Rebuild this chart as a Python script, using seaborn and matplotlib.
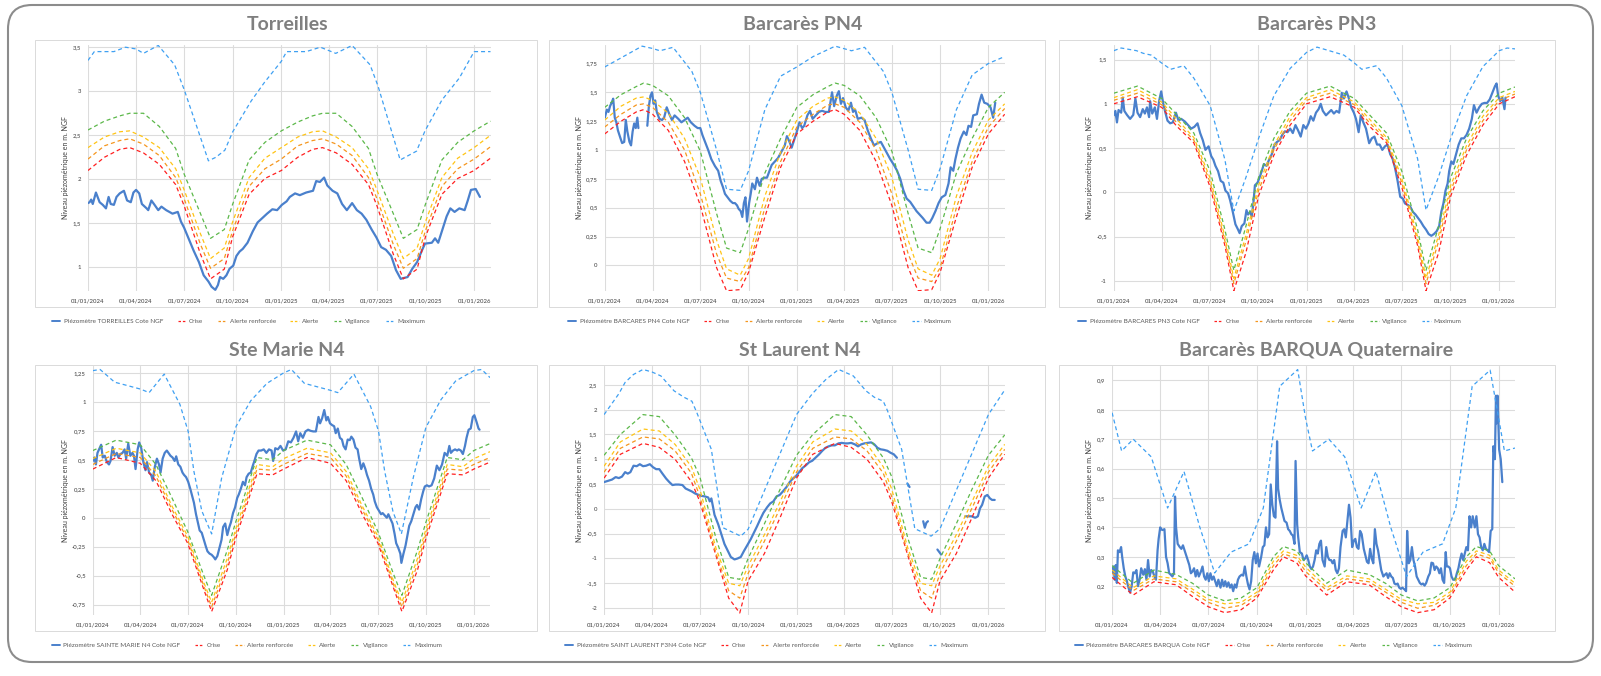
import numpy as np
import pandas as pd
import matplotlib
matplotlib.use("Agg")
import matplotlib.pyplot as plt
import matplotlib.dates as mdates
from matplotlib.patches import FancyBboxPatch, Rectangle
from matplotlib.lines import Line2D
from matplotlib.ticker import FuncFormatter
from matplotlib.transforms import IdentityTransform
import seaborn as sns

sns.set_theme(style="white")
plt.rcParams["font.family"] = ["Lato", "DejaVu Sans"]

nan = float("nan")
START = pd.Timestamp("2024-01-01")

# ---------------------------------------------------------------- data
# x values are days since 01/01/2024
level_names = ["Crise", "Alerte renforcée", "Alerte", "Vigilance", "Maximum"]
series_names = ["Piézomètre TORREILLES Cote NGF", "Piézomètre BARCARES PN4 Cote NGF",
                "Piézomètre BARCARES PN3 Cote NGF", "Piézomètre SAINTE MARIE N4 Cote NGF",
                "Piézomètre SAINT LAURENT F3N4 Cote NGF", "Piézomètre BARCARES BARQUA Cote NGF"]
titles = ["Torreilles", "Barcarès PN4", "Barcarès PN3", "Ste Marie N4", "St Laurent N4",
          "Barcarès BARQUA Quaternaire"]

# ---- Torreilles
tor_days = [0, 3, 6, 9, 15, 22, 28, 34, 39, 43, 49, 54, 60, 68, 74, 81, 86, 91, 97, 102,
            111, 114, 120, 126, 133, 139, 148, 160, 170, 176, 182, 191, 200, 210, 219, 228, 234, 241, 246, 250,
            256, 262, 268, 275, 281, 287, 293, 302, 312, 321, 330, 339, 349, 358, 367, 376, 382, 392, 401, 413,
            426, 432, 439, 447, 453, 463, 472, 481, 490, 500, 509, 518, 527, 537, 546, 555, 564, 574, 583, 592,
            598, 605, 614, 623, 632, 638, 651, 657, 663, 671, 679, 686, 694, 703, 713, 719, 725, 734, 742]
tor_vals = [1.73, 1.74, 1.77, 1.72, 1.85, 1.74, 1.71, 1.67, 1.80, 1.72, 1.71, 1.80, 1.84, 1.87, 1.76, 1.74, 1.85, 1.88, 1.84, 1.72,
            1.67, 1.65, 1.76, 1.71, 1.65, 1.69, 1.65, 1.61, 1.63, 1.52, 1.45, 1.32, 1.19, 1.06, 0.91, 0.84, 0.78, 0.745, 0.80, 0.89,
            0.87, 0.91, 0.985, 1.02, 1.13, 1.18, 1.21, 1.28, 1.41, 1.51, 1.56, 1.61, 1.66, 1.65, 1.71, 1.75, 1.80, 1.84, 1.82, 1.85,
            1.87, 1.98, 1.97, 2.02, 1.93, 1.87, 1.84, 1.72, 1.65, 1.73, 1.65, 1.61, 1.54, 1.43, 1.34, 1.23, 1.20, 1.13, 0.97, 0.87,
            0.88, 0.89, 0.985, 1.06, 1.19, 1.27, 1.28, 1.33, 1.28, 1.43, 1.58, 1.67, 1.63, 1.67, 1.65, 1.76, 1.88, 1.89, 1.80]
tor_thr_days = [0, 31, 60, 79, 105, 135, 166, 182, 213, 232, 258, 274, 305, 335, 366,
                397, 425, 444, 470, 500, 531, 547, 578, 597, 623, 639, 670, 700, 731, 762]
tor_crise = [2.10, 2.25, 2.34, 2.36, 2.30, 2.17, 1.94, 1.70, 1.15, 0.87, 0.98, 1.35, 1.83, 2.01, 2.10,
             2.25, 2.34, 2.36, 2.30, 2.17, 1.94, 1.70, 1.15, 0.87, 0.98, 1.35, 1.83, 2.01, 2.10, 2.24]
tor_renf = [2.23, 2.38, 2.44, 2.46, 2.40, 2.27, 2.02, 1.78, 1.26, 0.99, 1.10, 1.42, 1.92, 2.12, 2.23,
            2.38, 2.44, 2.46, 2.40, 2.27, 2.02, 1.78, 1.26, 0.99, 1.10, 1.42, 1.92, 2.12, 2.23, 2.37]
tor_alerte = [2.36, 2.48, 2.54, 2.55, 2.48, 2.36, 2.12, 1.88, 1.38, 1.10, 1.22, 1.52, 2.02, 2.24, 2.36,
              2.48, 2.54, 2.55, 2.48, 2.36, 2.12, 1.88, 1.38, 1.10, 1.22, 1.52, 2.02, 2.24, 2.36, 2.50]
tor_vigil = [2.56, 2.66, 2.72, 2.75, 2.75, 2.60, 2.35, 2.06, 1.61, 1.33, 1.43, 1.72, 2.22, 2.42, 2.55,
             2.65, 2.72, 2.75, 2.75, 2.60, 2.35, 2.06, 1.61, 1.33, 1.43, 1.72, 2.22, 2.42, 2.55, 2.66]
tor_max_days = [0, 12, 49, 71, 91, 105, 133, 164, 182, 228, 242, 259, 274, 309, 334,
                366, 376, 413, 440, 469, 500, 534, 549, 591, 622, 638, 670, 703, 731, 762]
tor_max = [3.35, 3.45, 3.45, 3.50, 3.48, 3.43, 3.52, 3.30, 3.02, 2.21, 2.25, 2.33, 2.54, 2.89, 3.10,
           3.34, 3.45, 3.45, 3.50, 3.43, 3.52, 3.30, 3.06, 2.22, 2.32, 2.55, 2.90, 3.15, 3.45, 3.45]

# ---- Barcarès PN4
pn4_days = [0, 4, 7, 10, 13, 16, 19, 22, 25, 30,
            33, 37, 40, 43, 47, 50, 53, 56, 59, 62,
            64, 70, 81, 84, 87, 90, 93, 96, 99, 104,
            109, 113, 118, 123, 128, 133, 140, 146, 152, 158,
            164, 171, 177, 182, 186, 191, 197, 203, 210, 216,
            221, 225, 229, 234, 239, 244, 248, 252, 255, 259,
            262, 265, 268, 271, 275, 278, 281, 286, 290, 295,
            299, 304, 309, 314, 318, 324, 330, 337, 343, 347,
            352, 356, 361, 366, 371, 376, 380, 386, 391, 396,
            402, 408, 414, 420, 427, 433, 437, 442, 446, 450,
            454, 459, 464, 469, 473, 477, 482, 489, 495, 501,
            507, 513, 520, 526, 532, 538, 544, 551, 557, 563,
            569, 575, 582, 588, 594, 600, 606, 613, 619, 624,
            630, 636, 642, 649, 655, 659, 664, 668, 673, 678,
            684, 689, 693, 698, 702, 709, 713, 718, 723, 729,
            735, 740, 744]
pn4_vals = [1.28, 1.35, 1.33, 1.38, 1.41, 1.445, 1.28, 1.24, 1.17, 1.10,
            1.06, 1.07, 1.26, 1.16, 1.07, 1.04, 1.16, 1.23, 1.19, 1.28,
            1.19, nan, 1.21, 1.38, 1.47, 1.50, 1.40, 1.43, 1.33, 1.27,
            1.26, 1.28, 1.37, 1.31, 1.26, 1.30, 1.27, 1.24, 1.26, 1.28,
            1.24, 1.21, 1.19, 1.19, 1.13, 1.07, 1.00, 0.92, 0.86, 0.82,
            0.73, 0.68, 0.62, 0.59, 0.56, 0.54, 0.54, 0.52, 0.49, 0.47,
            0.42, 0.54, 0.59, 0.38, 0.54, 0.62, 0.71, 0.66, 0.76, 0.69,
            0.75, 0.76, 0.76, 0.82, 0.87, 0.90, 0.93, 0.99, 1.04, 1.12,
            1.07, 1.02, 1.09, 1.16, 1.24, 1.19, 1.21, 1.30, 1.34, 1.27,
            1.30, 1.33, 1.34, 1.33, 1.33, 1.50, 1.38, 1.47, 1.51, 1.40,
            1.45, 1.37, 1.34, 1.41, 1.33, 1.35, 1.27, 1.28, 1.26, 1.17,
            1.10, 1.04, 1.06, 1.07, 1.02, 0.97, 0.92, 0.87, 0.82, 0.75,
            0.65, 0.58, 0.55, 0.51, 0.47, 0.44, 0.41, 0.37, 0.37, 0.41,
            0.47, 0.54, 0.59, 0.61, 0.71, 0.85, 0.82, 0.92, 1.02, 1.10,
            1.16, 1.13, 1.21, 1.20, 1.30, 1.31, 1.40, 1.48, 1.41, 1.40,
            1.37, 1.28, 1.41]
pn4_thr_days = [0, 31, 60, 74, 91, 121, 152, 182, 213, 232, 258, 274, 305, 335, 366,
                397, 425, 439, 456, 486, 517, 547, 578, 597, 623, 639, 670, 700, 731, 762]
pn4_crise = [1.14, 1.25, 1.33, 1.35, 1.31, 1.17, 0.90, 0.52, -0.02, -0.22, -0.21, -0.06, 0.42, 0.85, 1.14,
             1.25, 1.33, 1.35, 1.31, 1.17, 0.90, 0.52, -0.02, -0.22, -0.21, -0.06, 0.42, 0.85, 1.14, 1.31]
pn4_renf = [1.20, 1.31, 1.39, 1.40, 1.37, 1.24, 1.00, 0.62, 0.10, -0.11, -0.14, -0.02, 0.50, 0.90, 1.20,
            1.31, 1.39, 1.40, 1.37, 1.24, 1.00, 0.62, 0.10, -0.11, -0.14, -0.02, 0.50, 0.90, 1.20, 1.36]
pn4_alerte = [1.26, 1.38, 1.45, 1.46, 1.43, 1.32, 1.10, 0.76, 0.22, -0.03, -0.085, 0.06, 0.60, 0.98, 1.26,
              1.38, 1.45, 1.46, 1.43, 1.32, 1.10, 0.76, 0.22, -0.03, -0.085, 0.06, 0.60, 0.98, 1.26, 1.40]
pn4_vigil = [1.37, 1.48, 1.55, 1.58, 1.56, 1.47, 1.28, 0.99, 0.45, 0.15, 0.11, 0.32, 0.80, 1.10, 1.37,
             1.48, 1.55, 1.58, 1.56, 1.47, 1.28, 0.99, 0.45, 0.15, 0.11, 0.32, 0.80, 1.10, 1.37, 1.50]
pn4_max_days = [0, 71, 91, 105, 130, 166, 182, 213, 232, 258, 274, 305, 335, 366,
                397, 439, 470, 495, 531, 547, 578, 597, 623, 639, 670, 700, 731, 762]
pn4_max = [1.72, 1.90, 1.88, 1.86, 1.89, 1.68, 1.50, 1.00, 0.66, 0.65, 0.82, 1.35, 1.64, 1.72,
           1.81, 1.90, 1.86, 1.89, 1.68, 1.50, 1.00, 0.66, 0.65, 0.84, 1.35, 1.65, 1.75, 1.81]

# ---- Barcarès PN3
pn3_days = [0, 3, 6, 9, 14, 17, 20, 25, 31, 37,
            41, 45, 50, 55, 59, 63, 67, 69, 73, 78,
            82, 86, 90, 94, 98, 102, 107, 112, 118, 123,
            128, 135, 141, 147, 153, 159, 164, 169, 174, 180,
            185, 189, 193, 198, 203, 208, 212, 217, 221, 226,
            231, 236, 239, 243, 248, 252, 255, 259, 262, 265,
            268, 273, 277, 281, 285, 290, 295, 300, 305, 310,
            315, 320, 325, 330, 335, 340, 345, 350, 355, 360,
            365, 370, 374, 379, 384, 389, 393, 397, 403, 408,
            413, 418, 423, 428, 433, 437, 442, 446, 451, 456,
            460, 465, 469, 474, 479, 485, 490, 495, 500, 505,
            510, 515, 520, 525, 529, 534, 539, 544, 549, 553,
            558, 563, 568, 573, 578, 583, 588, 593, 598, 603,
            608, 613, 618, 622, 626, 630, 634, 637, 641, 645,
            650, 655, 660, 665, 670, 675, 680, 684, 689, 694,
            699, 704, 709, 714, 719, 724, 727, 730, 734, 738,
            742, 744]
pn3_vals = [0.87, 0.92, 0.79, 0.93, 0.90, 1.07, 0.92, 0.875, 0.83, 0.875,
            1.06, 0.90, 0.85, 0.94, 0.89, 0.96, 0.85, 1.03, 0.89, 0.96,
            0.83, 1.03, 1.14, 1.00, 0.90, 0.81, 0.78, 0.79, 0.90, 0.81,
            0.83, 0.80, 0.76, 0.72, 0.74, 0.78, 0.67, 0.59, 0.48, 0.52,
            0.41, 0.37, 0.30, 0.24, 0.13, 0.11, 0.02, -0.01, -0.09, -0.22,
            -0.36, -0.42, -0.46, -0.38, -0.35, -0.20, -0.25, -0.22, -0.27, -0.13,
            0.08, 0.11, 0.17, 0.24, 0.32, 0.30, 0.37, 0.43, 0.54, 0.57,
            0.59, 0.65, 0.69, 0.68, 0.72, 0.67, 0.76, 0.70, 0.63, 0.76,
            0.72, 0.78, 0.86, 0.81, 0.90, 0.94, 1.00, 0.92, 0.87, 0.90,
            0.93, 0.89, 0.92, 0.90, 1.125, 1.06, 1.14, 1.07, 0.96, 0.90,
            0.83, 0.68, 0.87, 0.79, 0.72, 0.555, 0.61, 0.63, 0.54, 0.54,
            0.48, 0.52, 0.54, 0.43, 0.39, 0.28, 0.13, -0.05, -0.07, -0.125,
            -0.14, -0.16, -0.22, -0.25, -0.29, -0.33, -0.38, -0.42, -0.47, -0.49,
            -0.47, -0.44, -0.38, -0.22, -0.125, 0.02, 0.10, 0.24, 0.35, 0.32,
            0.43, 0.54, 0.61, 0.61, 0.65, 0.72, 0.83, 0.985, 0.90, 0.96,
            1.00, 1.01, 1.01, 1.05, 1.125, 1.20, 1.23, 1.09, 1.03, 1.07,
            0.94, 1.07]
pn3_thr_days = [0, 45, 91, 119, 152, 183, 211, 228, 251, 275, 304, 335, 366,
                411, 457, 485, 518, 547, 577, 593, 617, 640, 670, 701, 732, 762]
pn3_crise = [1.00, 1.08, 0.96, 0.75, 0.56, 0.06, -0.60, -1.11, -0.68, -0.04, 0.42, 0.76, 1.00,
             1.08, 0.96, 0.75, 0.56, 0.06, -0.60, -1.11, -0.68, -0.04, 0.42, 0.76, 1.00, 1.08]
pn3_renf = [1.04, 1.12, 0.99, 0.79, 0.59, 0.11, -0.55, -1.03, -0.55, 0.02, 0.48, 0.81, 1.04,
            1.12, 0.99, 0.79, 0.59, 0.11, -0.55, -1.03, -0.55, 0.02, 0.48, 0.81, 1.04, 1.11]
pn3_alerte = [1.07, 1.16, 1.02, 0.83, 0.62, 0.16, -0.50, -0.97, -0.48, 0.08, 0.53, 0.86, 1.07,
              1.16, 1.02, 0.83, 0.62, 0.16, -0.50, -0.97, -0.48, 0.08, 0.53, 0.86, 1.07, 1.14]
pn3_vigil = [1.12, 1.20, 1.06, 0.88, 0.67, 0.24, -0.42, -0.88, -0.38, 0.17, 0.61, 0.92, 1.12,
             1.20, 1.06, 0.88, 0.67, 0.24, -0.42, -0.88, -0.38, 0.17, 0.61, 0.92, 1.12, 1.19]
pn3_max_days = [0, 14, 43, 56, 71, 91, 108, 133, 152, 183, 211, 228, 251, 275, 304, 335, 366,
                386, 409, 437, 457, 471, 499, 518, 547, 577, 593, 617, 640, 670, 701, 732, 747, 762]
pn3_max = [1.60, 1.63, 1.60, 1.57, 1.55, 1.46, 1.39, 1.43, 1.29, 0.98, 0.37, -0.21, 0.17, 0.61, 1.09, 1.40, 1.58,
           1.64, 1.60, 1.55, 1.46, 1.39, 1.43, 1.29, 0.98, 0.38, -0.20, 0.18, 0.61, 1.09, 1.42, 1.60, 1.63, 1.62]

# ---- Ste Marie N4
stm_days = [0, 3, 6, 9, 12, 16, 19, 23, 27, 31,
            34, 38, 42, 46, 49, 53, 57, 61, 64, 68,
            72, 76, 79, 82, 86, 89, 93, 97, 101, 104,
            108, 112, 115, 119, 123, 127, 130, 134, 138, 142,
            145, 149, 153, 157, 160, 164, 168, 172, 175, 179,
            183, 187, 190, 194, 198, 202, 205, 209, 213, 217,
            220, 224, 228, 232, 235, 239, 243, 247, 250, 254,
            258, 262, 265, 269, 273, 277, 280, 284, 288, 292,
            295, 299, 303, 307, 310, 314, 318, 323, 328, 333,
            338, 343, 346, 350, 355, 360, 365, 370, 375, 380,
            385, 390, 394, 398, 403, 408, 413, 418, 423, 428,
            433, 436, 440, 444, 448, 451, 455, 459, 463, 466,
            470, 474, 478, 481, 485, 489, 493, 496, 500, 504,
            508, 511, 515, 519, 523, 526, 530, 534, 538, 541,
            545, 549, 553, 556, 560, 564, 567, 571, 575, 579,
            582, 586, 590, 592, 596, 600, 604, 607, 611, 615,
            619, 622, 626, 630, 634, 637, 641, 645, 650, 655,
            660, 665, 670, 675, 680, 684, 687, 691, 695, 699,
            702, 706, 710, 714, 717, 721, 725, 729, 732, 736,
            740, 742]
stm_vals = [0.49, 0.52, 0.46, 0.56, 0.59, 0.63, 0.52, 0.535, 0.48, 0.46,
            0.49, 0.61, 0.535, 0.56, 0.52, 0.55, 0.56, 0.59, 0.51, 0.64,
            0.535, 0.56, 0.535, 0.42, 0.59, 0.65, 0.60, 0.48, 0.41, 0.48,
            0.39, 0.37, 0.32, 0.44, 0.51, 0.46, 0.39, 0.51, 0.56, 0.58,
            0.56, 0.535, 0.52, 0.49, 0.53, 0.46, 0.44, 0.39, 0.37, 0.35,
            0.31, 0.25, 0.20, 0.13, 0.03, -0.05, -0.11, -0.13, -0.19, -0.25,
            -0.29, -0.31, -0.32, -0.34, -0.36, -0.33, -0.26, -0.19, -0.08, -0.05,
            -0.15, -0.08, -0.04, 0.04, 0.09, 0.17, 0.20, 0.25, 0.31, 0.28,
            0.35, 0.38, 0.39, 0.45, 0.49, 0.55, 0.58, 0.58, 0.59, 0.56,
            0.59, 0.58, 0.49, 0.60, 0.59, 0.62, 0.58, 0.59, 0.66, 0.65,
            0.69, 0.745, 0.66, 0.73, 0.69, 0.745, 0.76, 0.75, 0.745, 0.745,
            0.87, 0.815, 0.86, 0.93, 0.84, 0.87, 0.815, 0.80, 0.79, 0.73,
            0.77, 0.69, 0.675, 0.62, 0.59, 0.675, 0.67, 0.70, 0.675, 0.605,
            0.59, 0.51, 0.42, 0.47, 0.42, 0.37, 0.32, 0.25, 0.20, 0.14,
            0.09, 0.06, 0.03, 0.04, 0.02, 0.00, 0.03, -0.01, -0.05, -0.14,
            -0.22, -0.26, -0.31, -0.39, -0.31, -0.24, -0.14, -0.07, -0.03, 0.03,
            0.09, 0.11, 0.07, 0.16, 0.23, 0.27, 0.28, 0.27, 0.28, 0.34,
            0.45, 0.41, 0.46, 0.56, 0.535, 0.62, 0.56, 0.58, 0.59, 0.58,
            0.59, 0.58, 0.55, 0.62, 0.69, 0.76, 0.77, 0.87, 0.885, 0.83,
            0.77, 0.76]
stm_thr_days = [0, 45, 91, 121, 152, 182, 213, 228, 258, 274, 315, 345, 366,
                411, 456, 486, 517, 547, 578, 593, 623, 639, 680, 710, 731, 762]
stm_crise = [0.42, 0.52, 0.47, 0.32, 0.03, -0.22, -0.62, -0.81, -0.45, -0.18, 0.38, 0.37, 0.42,
             0.52, 0.47, 0.32, 0.03, -0.22, -0.62, -0.81, -0.45, -0.18, 0.38, 0.37, 0.42, 0.48]
stm_renf = [0.46, 0.555, 0.52, 0.36, 0.07, -0.19, -0.59, -0.77, -0.40, -0.14, 0.42, 0.41, 0.46,
            0.555, 0.52, 0.36, 0.07, -0.19, -0.59, -0.77, -0.40, -0.14, 0.42, 0.41, 0.46, 0.52]
stm_alerte = [0.51, 0.60, 0.56, 0.40, 0.10, -0.16, -0.56, -0.73, -0.35, -0.10, 0.46, 0.44, 0.51,
              0.60, 0.56, 0.40, 0.10, -0.16, -0.56, -0.73, -0.35, -0.10, 0.46, 0.44, 0.51, 0.57]
stm_vigil = [0.58, 0.67, 0.63, 0.46, 0.17, -0.12, -0.50, -0.67, -0.28, -0.04, 0.52, 0.50, 0.58,
             0.67, 0.63, 0.46, 0.17, -0.12, -0.50, -0.67, -0.28, -0.04, 0.52, 0.50, 0.58, 0.64]
stm_max_days = [0, 14, 42, 59, 92, 108, 137, 167, 183, 194, 209, 228, 247, 275, 303, 334, 366,
                381, 406, 456, 470, 501, 533, 548, 560, 576, 592, 615, 639, 668, 696, 731, 746, 762]
stm_max = [1.27, 1.28, 1.17, 1.15, 1.11, 1.08, 1.24, 0.98, 0.745, 0.40, 0.06, -0.14, 0.34, 0.79, 1.01, 1.16, 1.25,
           1.28, 1.16, 1.10, 1.08, 1.24, 0.96, 0.75, 0.40, 0.05, -0.14, 0.35, 0.78, 1.02, 1.18, 1.27, 1.28, 1.21]

# ---- St Laurent N4
stl_days = [0, 9, 15, 22, 28, 34, 40, 45, 50, 56,
            62, 68, 74, 80, 87, 93, 99, 105, 111, 118,
            124, 130, 136, 142, 149, 155, 161, 167, 173, 180,
            186, 192, 198, 201, 204, 207, 210, 217, 223, 229,
            235, 241, 248, 254, 260, 266, 272, 279, 285, 291,
            297, 303, 310, 316, 322, 328, 334, 340, 347, 353,
            359, 365, 371, 377, 384, 390, 396, 402, 409, 415,
            421, 427, 433, 439, 446, 452, 458, 464, 470, 477,
            483, 489, 495, 501, 508, 514, 520, 526, 532, 539,
            545, 551, 557, 565, 577, 581, 590, 607, 610, 613,
            616, 625, 634, 641, 660, 687, 693, 699, 706, 711,
            715, 719, 724, 729, 734, 738, 743]
stl_vals = [0.54, 0.57, 0.59, 0.64, 0.62, 0.65, 0.74, 0.71, 0.74, 0.87,
            0.86, 0.90, 0.86, 0.87, 0.90, 0.84, 0.80, 0.80, 0.71, 0.61,
            0.54, 0.48, 0.49, 0.49, 0.48, 0.41, 0.38, 0.35, 0.31, 0.28,
            0.26, 0.25, 0.23, 0.15, 0.21, 0.05, -0.12, -0.31, -0.51, -0.71,
            -0.84, -0.97, -1.02, -1.00, -0.97, -0.85, -0.74, -0.61, -0.48, -0.35,
            -0.21, -0.08, 0.03, 0.11, 0.15, 0.25, 0.28, 0.35, 0.44, 0.54,
            0.61, 0.66, 0.74, 0.82, 0.88, 0.94, 0.97, 1.03, 1.10, 1.17,
            1.23, 1.26, 1.28, 1.28, 1.32, 1.33, 1.32, 1.32, 1.33, 1.30,
            1.26, 1.30, 1.32, 1.33, 1.34, 1.30, 1.23, 1.20, 1.19, 1.17,
            1.13, 1.10, 1.03, nan, 0.51, 0.44, nan, -0.25, -0.38, -0.28,
            -0.25, nan, -0.82, -0.92, nan, -0.15, -0.15, -0.15, -0.18, -0.15,
            0.01, 0.08, 0.25, 0.28, 0.21, 0.18, 0.18]
stl_thr_days = [0, 31, 74, 105, 135, 166, 182, 213, 237, 258, 274, 305, 335, 366,
                397, 439, 470, 500, 531, 547, 578, 602, 623, 639, 670, 700, 731, 762]
stl_crise = [0.62, 1.10, 1.32, 1.24, 1.00, 0.55, 0.15, -0.95, -1.80, -2.10, -1.45, -0.90, -0.17, 0.62,
             1.10, 1.32, 1.24, 1.00, 0.55, 0.15, -0.95, -1.80, -2.10, -1.45, -0.90, -0.17, 0.62, 1.10]
stl_renf = [0.74, 1.22, 1.45, 1.41, 1.17, 0.72, 0.25, -0.90, -1.65, -1.80, -1.30, -0.65, 0.02, 0.74,
            1.22, 1.45, 1.41, 1.17, 0.72, 0.25, -0.90, -1.65, -1.80, -1.30, -0.65, 0.02, 0.74, 1.20]
stl_alerte = [0.86, 1.35, 1.61, 1.57, 1.30, 0.85, 0.40, -0.80, -1.50, -1.55, -1.15, -0.52, 0.15, 0.86,
              1.35, 1.61, 1.57, 1.30, 0.85, 0.40, -0.80, -1.50, -1.55, -1.15, -0.52, 0.15, 0.86, 1.30]
stl_vigil = [1.08, 1.50, 1.90, 1.86, 1.49, 1.03, 0.65, -0.60, -1.38, -1.42, -1.00, -0.30, 0.40, 1.08,
             1.50, 1.90, 1.86, 1.49, 1.03, 0.65, -0.60, -1.38, -1.42, -1.00, -0.30, 0.40, 1.08, 1.49]
stl_max_days = [0, 28, 40, 56, 74, 91, 108, 133, 152, 167, 176, 204, 226, 260, 274, 366,
                396, 421, 446, 457, 474, 498, 514, 531, 539, 566, 591, 622, 639, 731, 761]
stl_max = [1.90, 2.32, 2.55, 2.71, 2.81, 2.76, 2.68, 2.38, 2.25, 2.17, 1.95, 1.20, -0.38, -0.55, -0.41, 1.90,
           2.32, 2.60, 2.81, 2.76, 2.68, 2.38, 2.25, 2.17, 1.98, 1.20, -0.40, -0.55, -0.40, 1.90, 2.38]

# ---- Barcarès BARQUA Quaternaire
bq_days = [0, 3, 5, 7, 9, 11, 14, 17, 19, 22,
           25, 28, 31, 34, 37, 40, 43, 46, 49, 52,
           55, 59, 62, 65, 68, 71, 74, 77, 80, 83,
           86, 88, 91, 93, 95, 99, 102, 105, 108, 111,
           114, 117, 119, 121, 124, 128, 131, 134, 137, 140,
           143, 146, 149, 152, 155, 158, 161, 164, 168, 171,
           174, 177, 180, 183, 186, 189, 192, 195, 198, 201,
           205, 208, 211, 214, 217, 220, 223, 226, 229, 232,
           235, 238, 241, 245, 248, 251, 254, 257, 260, 263,
           266, 269, 272, 275, 278, 282, 285, 288, 291, 294,
           297, 300, 303, 306, 309, 312, 314, 317, 320, 323,
           326, 330, 333, 336, 339, 342, 345, 347, 350, 352,
           355, 359, 362, 365, 368, 371, 374, 377, 380, 383,
           386, 389, 392, 395, 398, 402, 405, 408, 411, 414,
           417, 420, 423, 426, 429, 432, 436, 439, 442, 445,
           448, 451, 454, 457, 460, 463, 466, 469, 472, 476,
           479, 482, 485, 488, 491, 494, 497, 500, 503, 506,
           509, 513, 516, 519, 522, 525, 528, 531, 534, 537,
           540, 543, 546, 549, 553, 556, 558, 561, 564, 567,
           570, 573, 576, 579, 582, 585, 588, 591, 594, 598,
           601, 604, 607, 610, 613, 616, 619, 622, 625, 628,
           631, 633, 636, 639, 642, 645, 649, 652, 655, 658,
           661, 664, 667, 670, 673, 676, 679, 682, 686, 689,
           692, 695, 698, 701, 704, 707, 710, 713, 716, 719,
           721, 724, 726, 727, 729, 732, 735, 738]
bq_vals = [0.244, 0.267, 0.222, 0.272, 0.211, 0.322, 0.316, 0.333, 0.30, 0.261,
           0.233, 0.217, 0.195, 0.178, 0.20, 0.247, 0.244, 0.255, 0.20, 0.222,
           0.261, 0.239, 0.258, 0.222, 0.289, 0.233, 0.255, 0.25, 0.233, 0.222,
           0.322, 0.361, 0.40, 0.394, 0.391, 0.394, 0.30, 0.278, 0.244, 0.239,
           0.233, 0.244, 0.505, 0.40, 0.344, 0.333, 0.327, 0.339, 0.322, 0.305,
           0.289, 0.272, 0.244, 0.25, 0.261, 0.233, 0.255, 0.233, 0.25, 0.267,
           0.233, 0.222, 0.244, 0.217, 0.244, 0.222, 0.233, 0.217, 0.20, 0.222,
           0.195, 0.222, 0.20, 0.217, 0.198, 0.213, 0.195, 0.206, 0.183, 0.206,
           0.195, 0.222, 0.233, 0.239, 0.236, 0.267, 0.233, 0.206, 0.189, 0.217,
           0.289, 0.316, 0.278, 0.311, 0.267, 0.30, 0.333, 0.339, 0.40, 0.366,
           0.377, 0.546, 0.477, 0.438, 0.433, 0.693, 0.532, 0.494, 0.466, 0.444,
           0.422, 0.416, 0.394, 0.388, 0.377, 0.372, 0.344, 0.626, 0.41, 0.366,
           0.316, 0.311, 0.289, 0.294, 0.305, 0.289, 0.267, 0.258, 0.267, 0.289,
           0.322, 0.311, 0.344, 0.355, 0.289, 0.267, 0.333, 0.30, 0.289, 0.289,
           0.278, 0.289, 0.255, 0.244, 0.261, 0.333, 0.388, 0.394, 0.366, 0.422,
           0.477, 0.433, 0.333, 0.355, 0.361, 0.333, 0.327, 0.388, 0.377, 0.327,
           0.305, 0.283, 0.278, 0.327, 0.294, 0.278, 0.394, 0.344, 0.322, 0.289,
           0.255, 0.233, 0.239, 0.244, 0.228, 0.244, 0.233, 0.228, 0.209, 0.206,
           0.209, 0.195, 0.191, 0.195, 0.189, 0.183, 0.388, 0.278, 0.289, 0.333,
           0.289, 0.267, 0.233, 0.222, 0.211, 0.206, 0.209, 0.202, 0.211, 0.233,
           0.244, 0.28, 0.278, 0.255, 0.267, 0.261, 0.244, 0.261, 0.222, 0.211,
           0.316, 0.267, 0.267, 0.261, 0.233, 0.222, 0.222, 0.244, 0.261, 0.289,
           0.311, 0.289, 0.311, 0.333, 0.322, 0.438, 0.40, 0.438, 0.40, 0.438,
           0.377, 0.366, 0.333, 0.322, 0.344, 0.327, 0.322, 0.316, 0.388, 0.394,
           0.676, 0.632, 0.848, 0.754, 0.848, 0.665, 0.632, 0.554]
bq_thr_days = [0, 40, 79, 121, 152, 182, 213, 244, 274, 305, 324, 349, 366,
               406, 444, 486, 517, 547, 578, 609, 639, 670, 689, 714, 731, 762]
bq_crise = [0.23, 0.17, 0.215, 0.205, 0.165, 0.13, 0.11, 0.12, 0.16, 0.255, 0.30, 0.28, 0.235,
            0.17, 0.215, 0.205, 0.165, 0.13, 0.11, 0.12, 0.16, 0.255, 0.30, 0.28, 0.23, 0.18]
bq_renf = [0.245, 0.185, 0.225, 0.215, 0.18, 0.145, 0.125, 0.135, 0.17, 0.27, 0.31, 0.295, 0.25,
           0.185, 0.225, 0.215, 0.18, 0.145, 0.125, 0.135, 0.17, 0.27, 0.31, 0.295, 0.245, 0.20]
bq_alerte = [0.255, 0.195, 0.235, 0.225, 0.19, 0.155, 0.14, 0.145, 0.18, 0.285, 0.32, 0.305, 0.265,
             0.195, 0.235, 0.225, 0.19, 0.155, 0.14, 0.145, 0.18, 0.285, 0.32, 0.305, 0.255, 0.21]
bq_vigil = [0.27, 0.21, 0.255, 0.24, 0.21, 0.17, 0.15, 0.16, 0.195, 0.30, 0.335, 0.32, 0.28,
            0.21, 0.255, 0.24, 0.21, 0.17, 0.15, 0.16, 0.195, 0.30, 0.335, 0.32, 0.27, 0.225]
bq_max_days = [0, 18, 40, 74, 105, 136, 166, 194, 225, 259, 286, 317, 351, 366,
               379, 410, 440, 471, 499, 527, 557, 588, 625, 650, 681, 715, 742, 762]
bq_max = [0.79, 0.66, 0.70, 0.64, 0.466, 0.59, 0.40, 0.245, 0.316, 0.344, 0.466, 0.88, 0.937, 0.77,
          0.66, 0.70, 0.64, 0.466, 0.59, 0.40, 0.233, 0.316, 0.344, 0.466, 0.88, 0.935, 0.66, 0.67]

# y-axis tick values per chart
tor_yticks = [1, 1.5, 2, 2.5, 3, 3.5]
pn4_yticks = [0, 0.25, 0.5, 0.75, 1, 1.25, 1.5, 1.75]
pn3_yticks = [-1, -0.5, 0, 0.5, 1, 1.5]
stm_yticks = [-0.75, -0.5, -0.25, 0, 0.25, 0.5, 0.75, 1, 1.25]
stl_yticks = [-2, -1.5, -1, -0.5, 0, 0.5, 1, 1.5, 2, 2.5]
bq_yticks = [0.2, 0.3, 0.4, 0.5, 0.6, 0.7, 0.8, 0.9]

# ---------------------------------------------------------------- layout / style
W, H = 1601, 676
SERIES_COL = "#4a80cc"
LEVEL_COLS = ["#ff2020", "#f5961e", "#ffc414", "#5cb84a", "#3fa0f2"]
TXT = "#595959"

charts = [
    dict(days=tor_days, vals=tor_vals, td=tor_thr_days, thr=[tor_crise, tor_renf, tor_alerte, tor_vigil],
         md=tor_max_days, mx=tor_max, yt=tor_yticks, ylim=(0.732, 3.525),
         ax=(88, 45, 490.5, 291), box=(35, 40, 537, 307), title=(288, 24), ylx=65.8, leg=(52, 321)),
    dict(days=pn4_days, vals=pn4_vals, td=pn4_thr_days, thr=[pn4_crise, pn4_renf, pn4_alerte, pn4_vigil],
         md=pn4_max_days, mx=pn4_max, yt=pn4_yticks, ylim=(-0.222, 1.91),
         ax=(604.8, 45, 1004.7, 291), box=(549, 40, 1045, 307), title=(803, 24), ylx=579.7, leg=(568, 321)),
    dict(days=pn3_days, vals=pn3_vals, td=pn3_thr_days, thr=[pn3_crise, pn3_renf, pn3_alerte, pn3_vigil],
         md=pn3_max_days, mx=pn3_max, yt=pn3_yticks, ylim=(-1.113, 1.664),
         ax=(1113.8, 45, 1515, 291), box=(1059, 40, 1555, 307), title=(1317, 24), ylx=1089.4, leg=(1078, 321)),
    dict(days=stm_days, vals=stm_vals, td=stm_thr_days, thr=[stm_crise, stm_renf, stm_alerte, stm_vigil],
         md=stm_max_days, mx=stm_max, yt=stm_yticks, ylim=(-0.84, 1.31),
         ax=(92.8, 366, 490, 615), box=(35, 365, 537, 631), title=(287, 350), ylx=65.8, leg=(51.5, 645)),
    dict(days=stl_days, vals=stl_vals, td=stl_thr_days, thr=[stl_crise, stl_renf, stl_alerte, stl_vigil],
         md=stl_max_days, mx=stl_max, yt=stl_yticks, ylim=(-2.14, 2.88),
         ax=(604.1, 366, 1004.7, 615), box=(549, 365, 1045, 631), title=(800, 350), ylx=579.7, leg=(565, 645)),
    dict(days=bq_days, vals=bq_vals, td=bq_thr_days, thr=[bq_crise, bq_renf, bq_alerte, bq_vigil],
         md=bq_max_days, mx=bq_max, yt=bq_yticks, ylim=(0.102, 0.949),
         ax=(1112.1, 366, 1515, 615), box=(1059, 365, 1555, 631), title=(1316, 350), ylx=1089.4, leg=(1075, 645)),
]


def to_dates(days):
    return START + pd.to_timedelta(np.asarray(days, dtype=float), unit="D")


def fmt_num(v, pos=None):
    s = f"{v:.2f}".rstrip("0").rstrip(".")
    if s in ("-0", ""):
        s = "0"
    return s.replace(".", ",")


DASH = (0, (3.2, 2.4))

fig = plt.figure(figsize=(W / 100, H / 100), dpi=100)
fig.patch.set_facecolor("white")

# outer rounded frame
frame = FancyBboxPatch((8, H - 662), 1593 - 8, 662 - 5, boxstyle="round,pad=0,rounding_size=24",
                       transform=IdentityTransform(), fill=False, ec="#8c8c8c", lw=1.5, zorder=0)
fig.add_artist(frame)

for i, c in enumerate(charts):
    x0, y0, x1, y1 = c["box"]
    fig.add_artist(Rectangle((x0 / W, 1 - y1 / H), (x1 - x0) / W, (y1 - y0) / H,
                             transform=fig.transFigure, fill=False, ec="#dadada", lw=0.7, zorder=1))
    fig.text(c["title"][0] / W, 1 - c["title"][1] / H, titles[i], ha="center", va="center",
             fontsize=14, fontweight="bold", color="#7f7f7f")

    l, t, r, b = c["ax"]
    ax = fig.add_axes([l / W, 1 - b / H, (r - l) / W, (b - t) / H])
    ax.set_facecolor("none")

    # measured series, broken at gaps
    df = pd.DataFrame({"date": to_dates(c["days"]), "val": c["vals"]})
    df["seg"] = df["val"].isna().cumsum()
    df = df.dropna()
    sns.lineplot(data=df, x="date", y="val", units="seg", estimator=None, sort=False,
                 color=SERIES_COL, lw=1.6, ax=ax, legend=False, zorder=3)

    # threshold levels
    td = to_dates(c["td"])
    for vals, col in zip(c["thr"], LEVEL_COLS[:4]):
        sns.lineplot(x=td, y=vals, estimator=None, sort=False, color=col, lw=0.9,
                     linestyle=DASH, ax=ax, legend=False, zorder=4)
    sns.lineplot(x=to_dates(c["md"]), y=c["mx"], estimator=None, sort=False, color=LEVEL_COLS[4],
                 lw=0.9, linestyle=DASH, ax=ax, legend=False, zorder=4)

    ax.set_xlim(to_dates([0])[0], to_dates([762])[0])
    ax.set_ylim(*c["ylim"])
    ax.set_yticks(c["yt"])
    ax.yaxis.set_major_formatter(FuncFormatter(fmt_num))
    ax.xaxis.set_major_locator(mdates.MonthLocator(bymonth=[1, 4, 7, 10]))
    ax.xaxis.set_major_formatter(mdates.DateFormatter("%d/%m/%Y"))
    ax.xaxis.set_minor_locator(mdates.MonthLocator())
    ax.set_axisbelow(True)
    ax.grid(True, which="major", color="#dcdcdc", lw=0.8)
    for s in ax.spines.values():
        s.set_visible(False)
    ax.tick_params(axis="both", which="major", length=0, labelsize=4.3, labelcolor=TXT)
    ax.tick_params(axis="x", which="major", pad=5.5)
    ax.tick_params(axis="y", which="major", pad=5)
    ax.tick_params(axis="x", which="minor", length=2.2, width=0.6, color="#c8c8c8", direction="in")
    for lab in ax.get_xticklabels() + ax.get_yticklabels():
        lab.set_fontweight("semibold")
    ax.set_xlabel("")
    ax.set_ylabel("")

    fig.text(c["ylx"] / W, 1 - ((t + b) / 2) / H, "Niveau piézométrique en m. NGF", rotation=90,
             ha="center", va="center", fontsize=5, color="#404040")

    handles = [Line2D([], [], color=SERIES_COL, lw=1.4)] + \
              [Line2D([], [], color=col, lw=0.9, linestyle=(0, (2, 1.5))) for col in LEVEL_COLS]
    labels = [series_names[i]] + level_names
    leg = fig.legend(handles, labels, loc="center left",
                     bbox_to_anchor=(c["leg"][0] / W, 1 - c["leg"][1] / H), ncol=6, frameon=False,
                     fontsize=4.6, handlelength=1.3, handletextpad=0.5, columnspacing=2.3,
                     borderpad=0, borderaxespad=0)
    for tx in leg.get_texts():
        tx.set_color(TXT)

fig.savefig("out.png", dpi=100, facecolor="white")
